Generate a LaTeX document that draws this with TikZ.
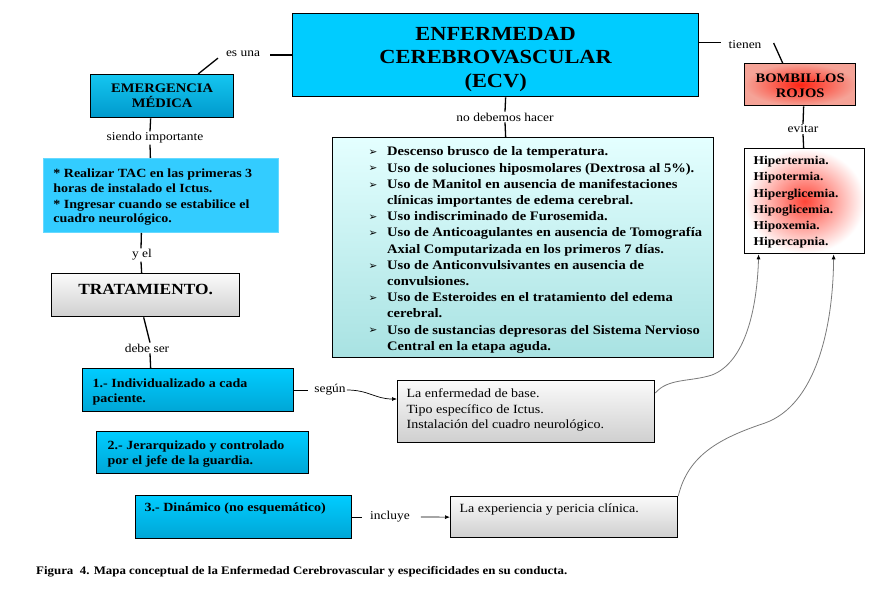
\documentclass[tikz,border=0pt]{standalone}
\usepackage{fontspec}
\setmainfont{Liberation Serif}[FakeStretch=1.12]
\newfontfamily\symfont{DejaVu Sans}
\usetikzlibrary{arrows.meta}
\definecolor{ecvc}{HTML}{00CCFF}
\definecolor{emtop}{HTML}{14C6F0}
\definecolor{embot}{HTML}{0099CC}
\definecolor{numtop}{HTML}{00CCFF}
\definecolor{numbot}{HTML}{00A6D6}
\definecolor{tacc}{HTML}{33CCFF}
\definecolor{tacline}{HTML}{66D9FF}
\definecolor{listtop}{HTML}{E4FFFF}
\definecolor{listbot}{HTML}{A8E2E2}
\definecolor{graytop}{HTML}{FAFAFA}
\definecolor{graybot}{HTML}{CFCFCF}
\definecolor{redin}{HTML}{FF2414}
\definecolor{salmon}{HTML}{F5A397}
\definecolor{curvec}{HTML}{7A7A7A}
\newcommand\fs[2]{\fontsize{#1}{#2}\selectfont}
\newcommand\bxt[5]{\parbox[t][#2][t]{#1}{\vspace*{#3}#4\noindent\rule{0pt}{0.75em}#5}}
\newcommand\bul{\makebox[18.5pt][l]{\symfont\fs{10.5}{10.5}\raisebox{0.3pt}{➢}}}
\newcommand\ind{\hspace*{18.5pt}}
\begin{document}
\begin{tikzpicture}[x=1pt,y=-1pt,
  box/.style={draw=black, line width=1.3pt, inner sep=0pt, anchor=north west},
  lbl/.style={font=\fs{12}{12}, inner sep=1pt},
  ln/.style={line width=1.3pt},
  arr/.style={line width=0.7pt, -{Latex[length=5pt,width=4pt]}},
  crv/.style={line width=0.8pt, draw=curvec, -{Latex[length=5pt,width=4pt,color=black]}}
]
\useasboundingbox (0,0) rectangle (875,599);

% main boxes
\node[box, fill=ecvc] (ecv) at (292,13)
  {\bxt{406pt}{83pt}{11.6pt}{\centering\bfseries\fs{20}{23.5}}{ENFERMEDAD\\CEREBROVASCULAR\\(ECV)}};
\node[box, top color=emtop, bottom color=embot] (emerg) at (90,74)
  {\bxt{143pt}{43pt}{8.5pt}{\centering\bfseries\fs{13}{15}}{EMERGENCIA\\MÉDICA}};
\node[box, fill=tacc, draw=tacline, line width=0.8pt] (tac) at (43,158)
  {\bxt{235pt}{74pt}{9.7pt}{\raggedright\leftskip=10pt\bfseries\fs{12.5}{14.7}}{* Realizar TAC en las primeras 3\\ horas de instalado el Ictus.\\[1.3pt] * Ingresar cuando se estabilice el\\ cuadro neurológico.}};
\node[box, top color=graytop, bottom color=graybot] (trat) at (51,273)
  {\bxt{188pt}{43pt}{9.5pt}{\centering\bfseries\fs{15.5}{18}}{TRATAMIENTO.}};
\node[box, top color=numtop, bottom color=numbot] (b1) at (82,368)
  {\bxt{211pt}{43pt}{9.7pt}{\raggedright\leftskip=10pt\bfseries\fs{12.5}{14.7}}{1.- Individualizado a cada\\ paciente.}};
\node[box, top color=numtop, bottom color=numbot] (b2) at (96,431)
  {\bxt{212pt}{42pt}{8.7pt}{\raggedright\leftskip=11pt\bfseries\fs{12.5}{14.7}}{2.- Jerarquizado y controlado\\ por el jefe de la guardia.}};
\node[box, top color=numtop, bottom color=numbot] (b3) at (135,495)
  {\bxt{216pt}{43pt}{6.7pt}{\raggedright\leftskip=9pt\bfseries\fs{12.5}{14.7}}{3.- Dinámico (no esquemático)}};
\node[box, top color=listtop, bottom color=listbot] (list) at (332,137)
  {\bxt{381pt}{220pt}{8.6pt}{\raggedright\leftskip=36pt\bfseries\fs{13}{16.2}}{%
\bul Descenso brusco de la temperatura.\\
\bul Uso de soluciones hiposmolares (Dextrosa al 5\%).\\
\bul Uso de Manitol en ausencia de manifestaciones\\
\ind clínicas importantes de edema cerebral.\\
\bul Uso indiscriminado de Furosemida.\\
\bul Uso de Anticoagulantes en ausencia de Tomografía\\
\ind Axial Computarizada en los primeros 7 días.\\
\bul Uso de Anticonvulsivantes en ausencia de\\
\ind convulsiones.\\
\bul Uso de Esteroides en el tratamiento del edema\\
\ind cerebral.\\
\bul Uso de sustancias depresoras del Sistema Nervioso\\
\ind Central en la etapa aguda.}};
\node[box, top color=graytop, bottom color=graybot] (enf) at (397,380)
  {\bxt{257pt}{62pt}{7.7pt}{\raggedright\leftskip=9pt\fs{12.5}{15.5}}{La enfermedad de base.\\ Tipo específico de Ictus.\\ Instalación del cuadro neurológico.}};
\node[box, top color=graytop, bottom color=graybot] (exp) at (450,496)
  {\bxt{227pt}{41pt}{6.7pt}{\raggedright\leftskip=9pt\fs{12.5}{15.5}}{La experiencia y pericia clínica.}};
\node[box, inner color=redin, outer color=salmon] (bomb) at (744,63)
  {\bxt{111pt}{42pt}{9.5pt}{\centering\bfseries\fs{13}{15}}{BOMBILLOS\\ROJOS}};
\node[box, inner color=redin!85, outer color=white] (hip) at (744,148)
  {\bxt{120pt}{105pt}{7pt}{\raggedright\leftskip=9pt\bfseries\fs{12}{16.2}}{Hipertermia.\\ Hipotermia.\\ Hiperglicemia.\\ Hipoglicemia.\\ Hipoxemia.\\ Hipercapnia.}};

% labels
\node[lbl] (esuna) at (243,54) {es una};
\node[lbl] (siendo) at (155,138) {siendo importante};
\node[lbl] (yel) at (142,255) {y el};
\node[lbl] (debe) at (147,348) {debe ser};
\node[lbl] (segun) at (330,390) {según};
\node[lbl] (inc) at (390,517) {incluye};
\node[lbl] (nodeb) at (505,117) {no debemos hacer};
\node[lbl] (tienen) at (745,45) {tienen};
\node[lbl] (evitar) at (803,129) {evitar};

% connectors
\draw[ln] (ecv.west) -- ++(-22,0);
\draw[ln] ([xshift=-25pt]esuna.south) -- ([xshift=36pt]emerg.north);
\draw[ln] ([xshift=-11.5pt]emerg.south) -- ([xshift=-5pt]siendo.north);
\draw[ln] ([xshift=-5pt]siendo.south) -- ([xshift=-10.5pt]tac.north);
\draw[ln] ([xshift=-19.5pt]tac.south) -- ([xshift=-1pt]yel.north);
\draw[ln] ([xshift=-1pt]yel.south) -- ([xshift=-4pt]trat.north);
\draw[ln] ([xshift=-2pt]trat.south) -- ([xshift=3pt]debe.north);
\draw[ln] ([xshift=3pt]debe.south) -- ([xshift=-37.5pt]b1.north);
\draw[ln] (b1.east) -- ++(14,0);
\draw[arr] (segun.east) .. controls +(22,0) and +(-22,0) .. ([yshift=-19pt]enf.north west);
\draw[ln] (b3.east) -- ++(10,0);
\draw[arr] ([xshift=10pt]inc.east) -- (exp.west);
\draw[ln] ([xshift=10pt]ecv.south) -- (nodeb.north);
\draw[ln] (nodeb.south) -- ([xshift=-17.5pt]list.north);
\draw[ln] ([yshift=12.5pt]ecv.east) -- ++(22,0);
\draw[ln] ([xshift=11pt,yshift=2pt]tienen.east) -- ([xshift=-17.5pt]bomb.north);
\draw[ln] ([xshift=3.5pt]bomb.south) -- (evitar.north);
\draw[ln] (evitar.south) -- ([xshift=-1pt]hip.north);
\draw[crv] ([yshift=-13pt]enf.north east) .. controls (668,378) and (690,382) .. (712,375)
  .. controls (745,362) and (757,310) .. ([xshift=-46pt]hip.south);
\draw[crv] (exp.north east) .. controls (688,455) and (720,438) .. (765,423)
  .. controls (815,405) and (833,330) .. ([xshift=29pt]hip.south);

% caption
\node[font=\bfseries\fs{11.5}{12}, anchor=west, inner sep=0pt] (cap) at (36,572)
  {Figura \ 4. Mapa conceptual de la Enfermedad Cerebrovascular y especificidades en su conducta.};
\end{tikzpicture}
\end{document}
